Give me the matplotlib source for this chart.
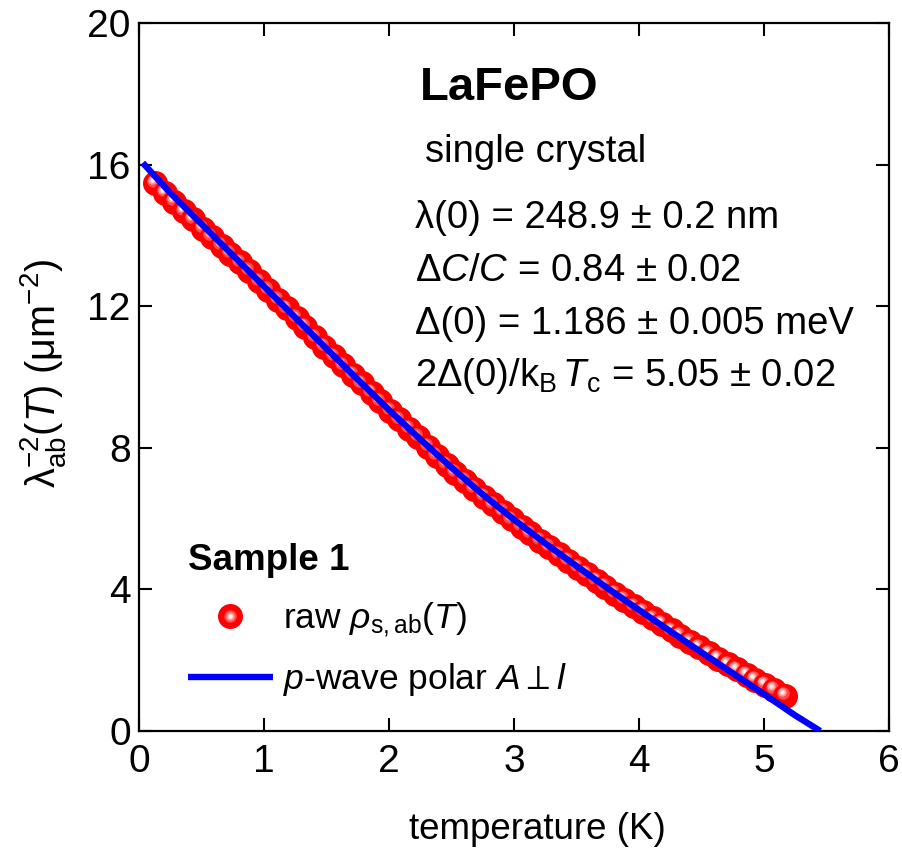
import matplotlib
matplotlib.use("Agg")
import matplotlib.pyplot as plt
from matplotlib.transforms import offset_copy
from matplotlib.lines import Line2D
from matplotlib.legend_handler import HandlerTuple

plt.rcParams['font.family'] = ['Liberation Sans', 'DejaVu Sans']
plt.rcParams['mathtext.fontset'] = 'custom'
plt.rcParams['mathtext.rm'] = 'Liberation Sans'
plt.rcParams['mathtext.it'] = 'Liberation Sans:italic'
plt.rcParams['mathtext.bf'] = 'Liberation Sans:bold'

# ---- data: raw superfluid density (lambda^-2) vs temperature ----
temp_K = [0.13, 0.21, 0.28, 0.36, 0.43, 0.51, 0.58, 0.66, 0.73, 0.81, 0.88, 0.96,
          1.03, 1.11, 1.18, 1.26, 1.33, 1.41, 1.48, 1.56, 1.63, 1.71, 1.78, 1.86,
          1.93, 2.01, 2.08, 2.16, 2.23, 2.31, 2.38, 2.46, 2.53, 2.61, 2.68, 2.76,
          2.83, 2.91, 2.98, 3.06, 3.13, 3.21, 3.28, 3.36, 3.43, 3.51, 3.58, 3.66,
          3.73, 3.81, 3.88, 3.96, 4.03, 4.11, 4.18, 4.26, 4.33, 4.41, 4.48, 4.56,
          4.63, 4.71, 4.78, 4.86, 4.93, 5.01, 5.08, 5.17]
lam_inv2 = [15.47, 15.19, 14.95, 14.68, 14.45, 14.18, 13.96, 13.70, 13.48, 13.24, 12.99, 12.70,
            12.45, 12.17, 11.94, 11.66, 11.42, 11.12, 10.86, 10.58, 10.33, 10.06, 9.82, 9.55,
            9.31, 9.04, 8.80, 8.53, 8.30, 8.02, 7.78, 7.52, 7.30, 7.06, 6.84, 6.61,
            6.40, 6.18, 5.98, 5.77, 5.58, 5.37, 5.19, 4.99, 4.81, 4.61, 4.44, 4.24,
            4.07, 3.88, 3.71, 3.52, 3.36, 3.18, 3.02, 2.84, 2.69, 2.51, 2.36, 2.19,
            2.04, 1.88, 1.74, 1.59, 1.45, 1.30, 1.16, 1.00]

# ---- p-wave polar fit curve ----
fit_T = [0.03, 0.25, 0.5, 0.75, 1.0, 1.25, 1.5, 1.75, 2.0, 2.25, 2.5, 2.75, 3.0,
         3.25, 3.5, 3.75, 4.0, 4.25, 4.5, 4.75, 5.0, 5.25, 5.45]
fit_y = [16.05, 15.20, 14.32, 13.44, 12.56, 11.68, 10.80, 9.93, 9.07, 8.24, 7.44, 6.68, 5.97,
         5.30, 4.66, 4.03, 3.42, 2.82, 2.22, 1.63, 1.04, 0.44, 0.0]

x_ticks = [0, 1, 2, 3, 4, 5, 6]
y_ticks = [0, 4, 8, 12, 16, 20]

fig = plt.figure(figsize=(9.02, 8.56), dpi=100)
ax = fig.add_axes([139/902, 1-731/856, 750/902, 708/856])

RED = '#ff0000'
MS = 18
hl1 = offset_copy(ax.transData, fig=fig, x=-1.5, y=2.0, units='points')
hl2 = offset_copy(ax.transData, fig=fig, x=-2.0, y=2.6, units='points')
for t, v in zip(temp_K, lam_inv2):
    ax.plot([t], [v], 'o', ms=MS, mfc=RED, mec=RED, mew=0, zorder=2)
    ax.plot([t], [v], 'o', ms=9, mfc='#ff4a4a', mec='none', zorder=2, transform=hl1)
    ax.plot([t], [v], 'o', ms=6, mfc='#ff9a9a', mec='none', zorder=2, transform=hl2)
    ax.plot([t], [v], 'o', ms=3.2, mfc='#fff0f0', mec='none', zorder=2, transform=hl2)

fit_line, = ax.plot(fit_T, fit_y, '-', color='#0000ff', lw=4.6, zorder=3,
                    solid_capstyle='butt')

ax.set_xlim(0, 6)
ax.set_ylim(0, 20)
ax.set_xticks(x_ticks)
ax.set_yticks(y_ticks)
ax.tick_params(direction='in', length=9.5, width=1.5, labelsize=28,
               top=True, right=True)
ax.tick_params(axis='x', pad=9)
ax.tick_params(axis='y', pad=6)
for s in ax.spines.values():
    s.set_linewidth(1.6)

ax.set_xlabel('temperature (K)', fontsize=26.5)
ax.xaxis.set_label_coords(0.531, -0.115)
ax.set_ylabel('λ$^{-2}_{\\rm ab}$($T$) (μm$^{-2}$)', fontsize=28.5)
ax.yaxis.set_label_coords(-0.095, 0.505)

# annotation texts
ax.text(0.375, 0.908, 'LaFePO', transform=ax.transAxes, fontsize=34,
        fontweight='bold', va='center', ha='left')
ax.text(0.381, 0.818, 'single crystal', transform=ax.transAxes, fontsize=27.5,
        va='center', ha='left')
params = ['λ(0) = 248.9 ± 0.2 nm',
          'Δ$C$/$C$ = 0.84 ± 0.02',
          'Δ(0) = 1.186 ± 0.005 meV',
          '2Δ(0)/k$_{\\rm B}\\,T_{\\rm c}$ = 5.05 ± 0.02']
base_y = [0.710, 0.636, 0.561, 0.487]
for s, yy in zip(params, base_y):
    ax.text(0.368, yy, s, transform=ax.transAxes, fontsize=27.5,
            va='baseline', ha='left')

# legend
h_base = Line2D([], [], ls='none', marker='o', ms=MS, mfc=RED, mec=RED, mew=0)
h_hl1 = Line2D([], [], ls='none', marker='o', ms=9, mfc='#ff4a4a', mec='none')
h_hl2 = Line2D([], [], ls='none', marker='o', ms=6, mfc='#ff9a9a', mec='none')
h_hl3 = Line2D([], [], ls='none', marker='o', ms=3.2, mfc='#fff0f0', mec='none')
leg = ax.legend([(h_base, h_hl1, h_hl2, h_hl3), fit_line],
                ['raw $\\rho_{\\rm s,ab}$($T$)', '$p$-wave polar $A\\perp l$'],
                handler_map={tuple: HandlerTuple(ndivide=1)},
                loc='upper left', bbox_to_anchor=(0.065, 0.265),
                frameon=False, fontsize=25.5, title='Sample 1',
                title_fontproperties={'weight': 'bold', 'size': 26.5},
                alignment='left', handlelength=2.4, handletextpad=0.3,
                labelspacing=0.62, borderpad=0, borderaxespad=0, numpoints=1)

fig.savefig('out.png', dpi=100)
